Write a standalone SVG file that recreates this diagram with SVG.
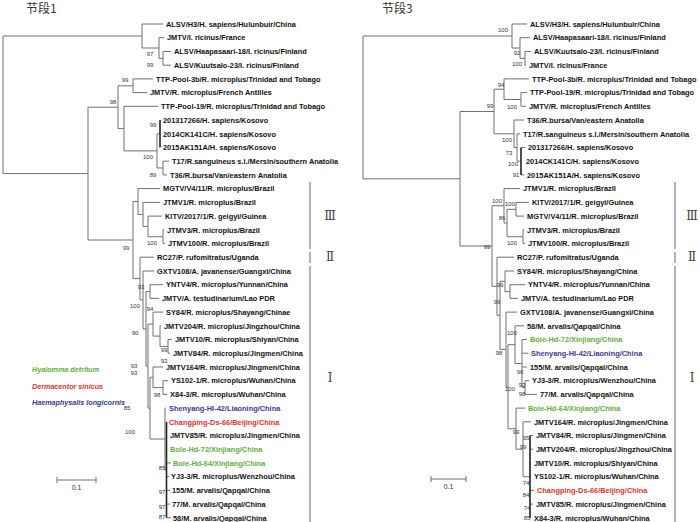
<svg xmlns="http://www.w3.org/2000/svg" width="700" height="522" viewBox="0 0 700 522">
<style>
.t{font-family:"Liberation Sans",Arial,sans-serif;font-size:7.4px;font-weight:bold;fill:#111}
.b{font-family:"Liberation Sans",Arial,sans-serif;font-size:6px;fill:#333;text-anchor:middle}
.e{fill:none;stroke:#707070;stroke-width:1}
.k{fill:none;stroke:#222;stroke-width:1.6}
.br{fill:none;stroke:#666;stroke-width:1}
.rn{font-family:"DejaVu Serif","Noto Sans CJK SC",serif;font-size:12px;fill:#444;text-anchor:middle}
.ti{font-family:"Noto Sans CJK SC",sans-serif;font-size:12px;fill:#333}
.lg{font-family:"Liberation Sans",Arial,sans-serif;font-size:7.2px;font-style:italic;font-weight:bold}
.g{fill:#5fb038}.r{fill:#e8302c}.u{fill:#3a3a96}
</style>
<rect width="700" height="522" fill="#fff"/>
<text class="ti" x="26" y="13">节段1</text>
<text class="ti" x="382" y="13">节段3</text>

<g id="connectors">
<path class="e" d="M3 36V173.6M3 36H142M3 173.6H88
M142 24V48M142 24H163M142 48H159
M159 37.7V58.3M159 37.7H164M159 58.3H163
M163 51.4V65.2M163 51.4H171M163 65.2H171
M88 107.2V240M88 107.2H118M88 240H133
M118 85.8V128.6M118 85.8H133M118 128.6H124
M133 78.9V92.6M133 78.9H153M133 92.6H147
M124 106.3V150.9M124 106.3H158M124 150.9H157
M157 133.8V168M157 133.8H160M157 168H163
M163 161.2V174.9M163 161.2H169M163 174.9H167
M133 201.5V278.6M133 201.5H138M133 278.6H140
M138 188.6V214.4M138 188.6H160M138 214.4H143
M143 202.4V226.4M143 202.4H160M143 226.4H148
M148 216.1V236.7M148 216.1H162M148 236.7H163
M163 229.8V243.5M163 229.8H164M163 243.5H165
M140 257.2V299.9M140 257.2H154M140 299.9H143
M143 271V328.9M143 271H154M143 328.9H146
M146 291.6V366.1M146 291.6H150M146 366.1H148
M150 284.7V298.4M150 284.7H163M150 298.4H159
M148 324.1V408.1M148 324.1H153M148 408.1H150
M153 312.1V336.1M153 312.1H163M153 336.1H160
M160 325.8V346.4M160 325.8H161M160 346.4H168
M168 339.5V353.2M168 339.5H172M168 353.2H170
M150 377.3V439M150 377.3H153M150 439H165
M153 367V387.6M153 367H163M153 387.6H163
M163 380.7V394.4M163 380.7H168M163 394.4H167
M165 408.1V469.8M165 408.1H166M165 469.8H166.5
M166.5 462.9H171M166.5 476.7H169M166.5 490.4H170M166.5 504.1H170M166.5 517.8H171"/>
<path class="k" d="M160 120V147.5M166.5 421.8V517.8"/>

<path class="e" d="M363 36V178.8M363 36H512M363 178.8H460
M512 24V48M512 24H527M512 48H520
M520 37.7V58.3M520 37.7H530M520 58.3H525
M525 51.4V65.2M525 51.4H531M525 65.2H526
M460 111.5V246M460 111.5H494M460 246H492
M494 89.2V133.8M494 89.2H504M494 133.8H514
M504 78.9V99.5M504 78.9H529M504 99.5H521
M521 92.6V106.3M521 92.6H527M521 106.3H526
M514 120V147.5M514 120H524M514 147.5H517
M517 133.8V161.2M517 133.8H520M517 161.2H521
M521 147.5H525M521 174.9H524
M492 205.8V286.3M492 205.8H504M492 286.3H497
M504 188.6V223M504 188.6H520M504 223H507
M507 209.3V236.7M507 209.3H516M507 236.7H523
M516 202.4V216.1M516 202.4H529M516 216.1H524
M523 229.8V243.5M523 229.8H524M523 243.5H525
M497 257.2V315.4M497 257.2H514M497 315.4H500
M500 281.3V349.4M500 281.3H505M500 349.4H506
M505 271V291.6M505 271H514M505 291.6H510
M510 284.7V298.4M510 284.7H525M510 298.4H518
M506 312.1V386.7M506 312.1H517M506 386.7H508
M508 344.7V428.7M508 344.7H515M508 428.7H516
M515 325.8V363.5M515 325.8H524M515 363.5H522
M522 339.5V387.6M522 339.5H527M522 353.2H528M522 367H527M522 387.6H525
M525 380.7V394.4M525 380.7H529M525 394.4H537
M516 408.1V449.2M516 408.1H525M516 449.2H523
M523 421.8V476.7M523 421.8H531M523 476.7H530
M530 435.5H533M530 449.2H533M530 462.9H531M530 476.7H531M530 490.4H534M530 504.1H533M530 517.8H531"/>
<path class="k" d="M521 147.5V174.9M530 435.5V517.8"/>

<path class="br" d="M310 182V249M310 252V263M310 266V522M675 182V249M675 252V263M675 266V522"/>
<path class="e" d="M57 480H96M57 477V483M96 477V483M431 479H466M431 476V482M466 476V482"/>
</g>

<g id="bootstrap-left">
<text class="b" x="150" y="56">97</text><text class="b" x="150" y="67">99</text>
<text class="b" x="125" y="82">99</text><text class="b" x="113" y="104">98</text>
<text class="b" x="153" y="127">99</text><text class="b" x="148" y="159">100</text>
<text class="b" x="153" y="177">89</text><text class="b" x="152" y="245">100</text>
<text class="b" x="126" y="250">99</text><text class="b" x="141" y="289">93</text>
<text class="b" x="135" y="308">100</text><text class="b" x="150" y="311">94</text>
<text class="b" x="135" y="335">90</text><text class="b" x="164" y="352">99</text>
<text class="b" x="164" y="363">93</text><text class="b" x="134" y="368">93</text>
<text class="b" x="134" y="375">93</text><text class="b" x="157" y="397">98</text>
<text class="b" x="127" y="410">85</text><text class="b" x="130" y="434">100</text>
<text class="b" x="162" y="470">85</text><text class="b" x="162" y="494">97</text>
<text class="b" x="162" y="509">97</text><text class="b" x="162" y="519">87</text>
</g>
<g id="bootstrap-right">
<text class="b" x="503" y="32">100</text><text class="b" x="517" y="55">92</text>
<text class="b" x="517" y="66">100</text><text class="b" x="501" y="87">94</text>
<text class="b" x="490" y="108">99</text><text class="b" x="512" y="109">100</text>
<text class="b" x="507" y="142">100</text><text class="b" x="509" y="155">73</text>
<text class="b" x="513" y="166">100</text><text class="b" x="516" y="177">91</text>
<text class="b" x="497" y="203">100</text><text class="b" x="510" y="206">100</text>
<text class="b" x="502" y="220">86</text><text class="b" x="512" y="245">100</text>
<text class="b" x="487" y="249">99</text><text class="b" x="500" y="287">99</text>
<text class="b" x="497" y="304">99</text><text class="b" x="512" y="335">100</text>
<text class="b" x="499" y="355">98</text><text class="b" x="520" y="374">96</text>
<text class="b" x="522" y="387">93</text><text class="b" x="510" y="391">100</text>
<text class="b" x="522" y="396">98</text><text class="b" x="516" y="434">99</text>
<text class="b" x="526" y="440">95</text><text class="b" x="523" y="449">99</text>
<text class="b" x="526" y="485">74</text><text class="b" x="526" y="497">84</text>
<text class="b" x="527" y="510">74</text><text class="b" x="527" y="520">85</text>
</g>

<g id="leaves-left">
<g id="L1"><text class="t" x="166" y="26.7">ALSV/H3/H. sapiens/Hulunbuir/China</text></g>
<g id="L2"><text class="t" x="167" y="40.4">JMTV/I. ricinus/France</text></g>
<g id="L3"><text class="t" x="174" y="54.1">ALSV/Haapasaari-18/I. ricinus/Finland</text></g>
<g id="L4"><text class="t" x="174" y="67.9">ALSV/Kuutsalo-23/I. ricinus/Finland</text></g>
<g id="L5"><text class="t" x="156" y="81.6">TTP-Pool-3b/R. microplus/Trinidad and Tobago</text></g>
<g id="L6"><text class="t" x="150" y="95.3">JMTV/R. microplus/French Antilles</text></g>
<g id="L7"><text class="t" x="161" y="109">TTP-Pool-19/R. microplus/Trinidad and Tobago</text></g>
<g id="L8"><text class="t" x="163" y="122.7">201317266/H. sapiens/Kosovo</text></g>
<g id="L9"><text class="t" x="163" y="136.5">2014CK141C/H. sapiens/Kosovo</text></g>
<g id="L10"><text class="t" x="163" y="150.2">2015AK151A/H. sapiens/Kosovo</text></g>
<g id="L11"><text class="t" x="172" y="163.9">T17/R.sanguineus s.l./Mersin/southern Anatolia</text></g>
<g id="L12"><text class="t" x="170" y="177.6">T36/R.bursa/Van/eastern Anatolia</text></g>
<g id="L13"><text class="t" x="163" y="191.3">MGTV/V4/11/R. microplus/Brazil</text></g>
<g id="L14"><text class="t" x="163" y="205.1">JTMV1/R. microplus/Brazil</text></g>
<g id="L15"><text class="t" x="165" y="218.8">KITV/2017/1/R. geigyi/Guinea</text></g>
<g id="L16"><text class="t" x="167" y="232.5">JTMV3/R. microplus/Brazil</text></g>
<g id="L17"><text class="t" x="168" y="246.2">JTMV100/R. microplus/Brazil</text></g>
<g id="L18"><text class="t" x="157" y="259.9">RC27/P. rufomitratus/Uganda</text></g>
<g id="L19"><text class="t" x="157" y="273.7">GXTV108/A. javanense/Guangxi/China</text></g>
<g id="L20"><text class="t" x="166" y="287.4">YNTV4/R. microplus/Yunnan/China</text></g>
<g id="L21"><text class="t" x="162" y="301.1">JMTV/A. testudinarium/Lao PDR</text></g>
<g id="L22"><text class="t" x="166" y="314.8">SY84/R. microplus/Shayang/Chinae</text></g>
<g id="L23"><text class="t" x="164" y="328.5">JMTV204/R. microplus/Jingzhou/China</text></g>
<g id="L24"><text class="t" x="175" y="342.2">JMTV10/R. microplus/Shiyan/China</text></g>
<g id="L25"><text class="t" x="173" y="355.9">JMTV84/R. microplus/Jingmen/China</text></g>
<g id="L26"><text class="t" x="166" y="369.7">JMTV164/R. microplus/Jingmen/China</text></g>
<g id="L27"><text class="t" x="171" y="383.4">YS102-1/R. microplus/Wuhan/China</text></g>
<g id="L28"><text class="t" x="170" y="397.1">X84-3/R. microplus/Wuhan/China</text></g>
<g id="L29"><text class="t u" x="169" y="410.8">Shenyang-HI-42/Liaoning/China</text></g>
<g id="L30"><text class="t r" x="169" y="424.5">Changping-Ds-66/Beijing/China</text></g>
<g id="L31"><text class="t" x="170" y="438.2">JMTV85/R. microplus/Jingmen/China</text></g>
<g id="L32"><text class="t g" x="170" y="451.9">Bole-Hd-72/Xinjiang/China</text></g>
<g id="L33"><text class="t g" x="173" y="465.6">Bole-Hd-64/Xinjiang/China</text></g>
<g id="L34"><text class="t" x="171" y="479.4">YJ3-3/R. microplus/Wenzhou/China</text></g>
<g id="L35"><text class="t" x="172" y="493.1">155/M. arvalis/Qapqal/China</text></g>
<g id="L36"><text class="t" x="172" y="506.8">77/M. arvalis/Qapqal/China</text></g>
<g id="L37"><text class="t" x="173" y="520.5">58/M. arvalis/Qapqal/China</text></g>
</g>

<g id="leaves-right">
<g id="R1"><text class="t" x="530" y="26.7">ALSV/H3/H. sapiens/Hulunbuir/China</text></g>
<g id="R2"><text class="t" x="533" y="40.4">ALSV/Haapasaari-18/I. ricinus/Finland</text></g>
<g id="R3"><text class="t" x="534" y="54.1">ALSV/Kuutsalo-23/I. ricinus/Finland</text></g>
<g id="R4"><text class="t" x="529" y="67.9">JMTV/I. ricinus/France</text></g>
<g id="R5"><text class="t" x="532" y="81.6">TTP-Pool-3b/R. microplus/Trinidad and Tobago</text></g>
<g id="R6"><text class="t" x="530" y="95.3">TTP-Pool-19/R. microplus/Trinidad and Tobago</text></g>
<g id="R7"><text class="t" x="529" y="109">JMTV/R. microplus/French Antilles</text></g>
<g id="R8"><text class="t" x="527" y="122.7">T36/R.bursa/Van/eastern Anatolia</text></g>
<g id="R9"><text class="t" x="523" y="136.5">T17/R.sanguineus s.l./Mersin/southern Anatolia</text></g>
<g id="R10"><text class="t" x="528" y="150.2">201317266/H. sapiens/Kosovo</text></g>
<g id="R11"><text class="t" x="526" y="163.9">2014CK141C/H. sapiens/Kosovo</text></g>
<g id="R12"><text class="t" x="527" y="177.6">2015AK151A/H. sapiens/Kosovo</text></g>
<g id="R13"><text class="t" x="523" y="191.3">JTMV1/R. microplus/Brazil</text></g>
<g id="R14"><text class="t" x="532" y="205.1">KITV/2017/1/R. geigyi/Guinea</text></g>
<g id="R15"><text class="t" x="527" y="218.8">MGTV/V4/11/R. microplus/Brazil</text></g>
<g id="R16"><text class="t" x="527" y="232.5">JTMV3/R. microplus/Brazil</text></g>
<g id="R17"><text class="t" x="528" y="246.2">JTMV100/R. microplus/Brazil</text></g>
<g id="R18"><text class="t" x="517" y="259.9">RC27/P. rufomitratus/Uganda</text></g>
<g id="R19"><text class="t" x="517" y="273.7">SY84/R. microplus/Shayang/China</text></g>
<g id="R20"><text class="t" x="528" y="287.4">YNTV4/R. microplus/Yunnan/China</text></g>
<g id="R21"><text class="t" x="521" y="301.1">JMTV/A. testudinarium/Lao PDR</text></g>
<g id="R22"><text class="t" x="520" y="314.8">GXTV108/A. javanense/Guangxi/China</text></g>
<g id="R23"><text class="t" x="527" y="328.5">58/M. arvalis/Qapqal/China</text></g>
<g id="R24"><text class="t g" x="530" y="342.2">Bole-Hd-72/Xinjiang/China</text></g>
<g id="R25"><text class="t u" x="531" y="355.9">Shenyang-HI-42/Liaoning/China</text></g>
<g id="R26"><text class="t" x="530" y="369.7">155/M. arvalis/Qapqal/China</text></g>
<g id="R27"><text class="t" x="532" y="383.4">YJ3-3/R. microplus/Wenzhou/China</text></g>
<g id="R28"><text class="t" x="540" y="397.1">77/M. arvalis/Qapqal/China</text></g>
<g id="R29"><text class="t g" x="528" y="410.8">Bole-Hd-64/Xinjiang/China</text></g>
<g id="R30"><text class="t" x="534" y="424.5">JMTV164/R. microplus/Jingmen/China</text></g>
<g id="R31"><text class="t" x="536" y="438.2">JMTV84/R. microplus/Jingmen/China</text></g>
<g id="R32"><text class="t" x="536" y="451.9">JMTV204/R. microplus/Jingzhou/China</text></g>
<g id="R33"><text class="t" x="534" y="465.6">JMTV10/R. microplus/Shiyan/China</text></g>
<g id="R34"><text class="t" x="534" y="479.4">YS102-1/R. microplus/Wuhan/China</text></g>
<g id="R35"><text class="t r" x="537" y="493.1">Changping-Ds-66/Beijing/China</text></g>
<g id="R36"><text class="t" x="536" y="506.8">JMTV85/R. microplus/Jingmen/China</text></g>
<g id="R37"><text class="t" x="534" y="520.5">X84-3/R. microplus/Wuhan/China</text></g>
</g>

<g id="groups">
<text class="rn" x="330" y="220">Ⅲ</text><text class="rn" x="330" y="261">Ⅱ</text><text class="rn" x="330" y="382">Ⅰ</text>
<text class="rn" x="692" y="220">Ⅲ</text><text class="rn" x="692" y="261">Ⅱ</text><text class="rn" x="692" y="382">Ⅰ</text>
</g>
<g id="legend">
<text class="lg g" x="32" y="371.5">Hyalomma detritum</text>
<text class="lg r" x="32" y="388.5">Dermacentor sinicus</text>
<text class="lg u" x="32" y="404.5">Haemaphysalis longicornis</text>
</g>
<g id="scale">
<text class="b" x="76.5" y="490" style="font-size:7px">0.1</text>
<text class="b" x="448.5" y="489" style="font-size:7px">0.1</text>
</g>
</svg>
